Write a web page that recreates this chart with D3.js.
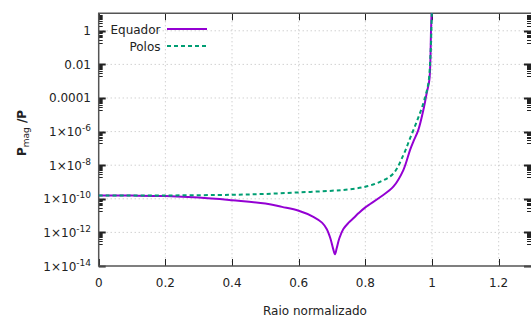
<!DOCTYPE html>
<html>
<head>
<meta charset="utf-8">
<script src="https://cdn.jsdelivr.net/npm/d3@7"></script>
<style>
  body { margin: 0; background: #fff; }
  svg { display: block; font-family: "DejaVu Sans", Verdana, sans-serif; }
</style>
</head>
<body>
<svg id="chart" width="531" height="321"></svg>
<script>
// ----- data (stored as log10 of Pmag/P)
const equadorX   = [0, 0.1, 0.2, 0.3, 0.4, 0.5, 0.55, 0.6, 0.644, 0.67, 0.684, 0.695, 0.703, 0.709, 0.714, 0.722, 0.734, 0.75, 0.764, 0.78, 0.8, 0.844, 0.884, 0.914, 0.934, 0.944, 0.959, 0.974, 0.984, 0.992, 0.995, 0.997, 0.999];
const equadorLog = [-9.8, -9.81, -9.84, -9.93, -10.09, -10.28, -10.48, -10.71, -11.07, -11.42, -11.8, -12.35, -12.95, -13.3, -12.95, -12.35, -11.8, -11.42, -11.16, -10.85, -10.51, -9.91, -9.28, -8.29, -7.1, -6.6, -5.9, -4.72, -3.72, -2.93, -1.8, 0, 1.2];
const polosX     = [0, 0.2, 0.4, 0.5, 0.6, 0.7, 0.75, 0.8, 0.844, 0.884, 0.914, 0.934, 0.954, 0.974, 0.989, 0.995, 0.998, 0.9995];
const polosLog   = [-9.8, -9.8, -9.76, -9.71, -9.62, -9.52, -9.44, -9.28, -8.99, -8.5, -7.4, -6.41, -5.42, -4.32, -3.13, -1.6, 0, 1.2];

const xTicks = [0, 0.2, 0.4, 0.6, 0.8, 1, 1.2];
const yTickExp = [0, -2, -4, -6, -8, -10, -12, -14];
const seriesNames = ["Equador", "Polos"];

// ----- geometry
const pLeft = 98.7, pRight = 532, pTop = 13.3, pBottom = 266;
const svg = d3.select("#chart");

const x = d3.scaleLinear().domain([0, 1.3]).range([pLeft, pRight]);
const y = d3.scaleLog().domain([1e-14, 11]).range([pBottom, pTop]);

const gridColor = "#bcbcbc";
const axisColor = "#555";

// grid lines (dotted)
svg.append("g").selectAll("line")
  .data(xTicks.filter(d => d > 0))
  .join("line")
    .attr("x1", d => x(d)).attr("x2", d => x(d))
    .attr("y1", pTop).attr("y2", pBottom)
    .attr("stroke", gridColor).attr("stroke-width", 1)
    .attr("stroke-dasharray", "1,3");

svg.append("g").selectAll("line")
  .data(yTickExp.filter(e => e > -14))
  .join("line")
    .attr("x1", pLeft).attr("x2", pRight)
    .attr("y1", e => y(Math.pow(10, e))).attr("y2", e => y(Math.pow(10, e)))
    .attr("stroke", gridColor).attr("stroke-width", 1)
    .attr("stroke-dasharray", "1,3");

// minor log ticks: 0.2..0.9 of each major tick, on left and right
const minorVals = [];
yTickExp.forEach(e => {
  for (let m = 2; m <= 9; m++) {
    const v = m * Math.pow(10, e - 1);
    if (v >= 1e-14) minorVals.push(v);
  }
});
for (let m = 2; m <= 9; m++) minorVals.push(m);

const ticksG = svg.append("g").attr("stroke", "#222").attr("stroke-width", 1);
ticksG.append("g").selectAll("line")
  .data(minorVals)
  .join("line")
    .attr("x1", pLeft).attr("x2", pLeft + 4)
    .attr("y1", v => Math.round(y(v)) + 0.5).attr("y2", v => Math.round(y(v)) + 0.5);
ticksG.append("g").selectAll("line")
  .data(minorVals)
  .join("line")
    .attr("x1", pRight - 5).attr("x2", pRight)
    .attr("y1", v => Math.round(y(v)) + 0.5).attr("y2", v => Math.round(y(v)) + 0.5);
ticksG.append("g").selectAll("line")
  .data(yTickExp)
  .join("line")
    .attr("x1", pLeft).attr("x2", pLeft + 7)
    .attr("y1", e => Math.round(y(Math.pow(10, e))) + 0.5)
    .attr("y2", e => Math.round(y(Math.pow(10, e))) + 0.5)
    .attr("stroke-width", 2);
ticksG.append("g").selectAll("line")
  .data(yTickExp)
  .join("line")
    .attr("x1", pRight - 8).attr("x2", pRight)
    .attr("y1", e => Math.round(y(Math.pow(10, e))) + 0.5)
    .attr("y2", e => Math.round(y(Math.pow(10, e))) + 0.5)
    .attr("stroke-width", 2);
// x ticks bottom and top
ticksG.append("g").selectAll("line")
  .data(xTicks)
  .join("line")
    .attr("x1", d => Math.round(x(d)) + 0.5).attr("x2", d => Math.round(x(d)) + 0.5)
    .attr("y1", pBottom).attr("y2", pBottom - 7);
ticksG.append("g").selectAll("line")
  .data(xTicks)
  .join("line")
    .attr("x1", d => Math.round(x(d)) + 0.5).attr("x2", d => Math.round(x(d)) + 0.5)
    .attr("y1", pTop).attr("y2", pTop + 7);

// border
svg.append("path")
  .attr("d", `M${pRight},${pTop}H${pLeft}V${pBottom}H${pRight}`)
  .attr("fill", "none").attr("stroke", axisColor).attr("stroke-width", 1.5);

// tick labels
svg.append("g").selectAll("text")
  .data(xTicks)
  .join("text")
    .attr("x", d => x(d)).attr("y", 287)
    .attr("text-anchor", "middle")
    .attr("font-size", 12).attr("fill", "#222")
    .text(d => d3.format("~g")(d));

const yl = svg.append("g").attr("font-size", 12).attr("fill", "#222");
yTickExp.forEach(e => {
  const t = yl.append("text")
    .attr("x", 91).attr("y", y(Math.pow(10, e)) + 4.5)
    .attr("text-anchor", "end");
  if (e === 0) t.text("1");
  else if (e === -2) t.text("0.01");
  else if (e === -4) t.text("0.0001");
  else {
    t.append("tspan").text("1\u00d710");
    t.append("tspan").attr("font-size", 9).attr("dy", -5).text(e);
  }
});

// axis titles
svg.append("text")
  .attr("x", 315).attr("y", 315)
  .attr("text-anchor", "middle").attr("font-size", 12).attr("fill", "#222")
  .text("Raio normalizado");

const yt = svg.append("text")
  .attr("transform", "translate(26,133) rotate(-90)")
  .attr("text-anchor", "middle").attr("font-size", 12).attr("font-weight", "bold").attr("fill", "#222");
yt.append("tspan").text("P");
yt.append("tspan").attr("font-size", 9).attr("font-weight", "normal").attr("dy", 3).text("mag");
yt.append("tspan").attr("dy", -3).text(" /P");

// curves
svg.append("clipPath").attr("id", "clip")
  .append("rect").attr("x", pLeft).attr("y", pTop).attr("width", pRight - pLeft).attr("height", pBottom - pTop);

const line = d3.line()
  .x(d => x(d[0]))
  .y(d => y(Math.pow(10, d[1])))
  .curve(d3.curveCatmullRom.alpha(0.5));

const eqData = equadorX.map((v, i) => [v, equadorLog[i]]);
const poData = polosX.map((v, i) => [v, polosLog[i]]);

const plot = svg.append("g").attr("clip-path", "url(#clip)");
plot.append("path").datum(eqData)
  .attr("d", line).attr("fill", "none")
  .attr("stroke", "#9400d3").attr("stroke-width", 2);
plot.append("path").datum(poData)
  .attr("d", line).attr("fill", "none")
  .attr("stroke", "#009e73").attr("stroke-width", 2)
  .attr("stroke-dasharray", "4,3");

// legend
const lg = svg.append("g");
seriesNames.forEach((name, i) => {
  const ly = 29 + i * 17;
  lg.append("text")
    .attr("x", 160.5).attr("y", ly + 4.5)
    .attr("text-anchor", "end").attr("font-size", 12).attr("fill", "#222")
    .text(name);
  lg.append("line")
    .attr("x1", 167).attr("x2", 207).attr("y1", ly).attr("y2", ly)
    .attr("stroke", i === 0 ? "#9400d3" : "#009e73").attr("stroke-width", 2)
    .attr("stroke-dasharray", i === 0 ? null : "4,3");
});
</script>
</body>
</html>
